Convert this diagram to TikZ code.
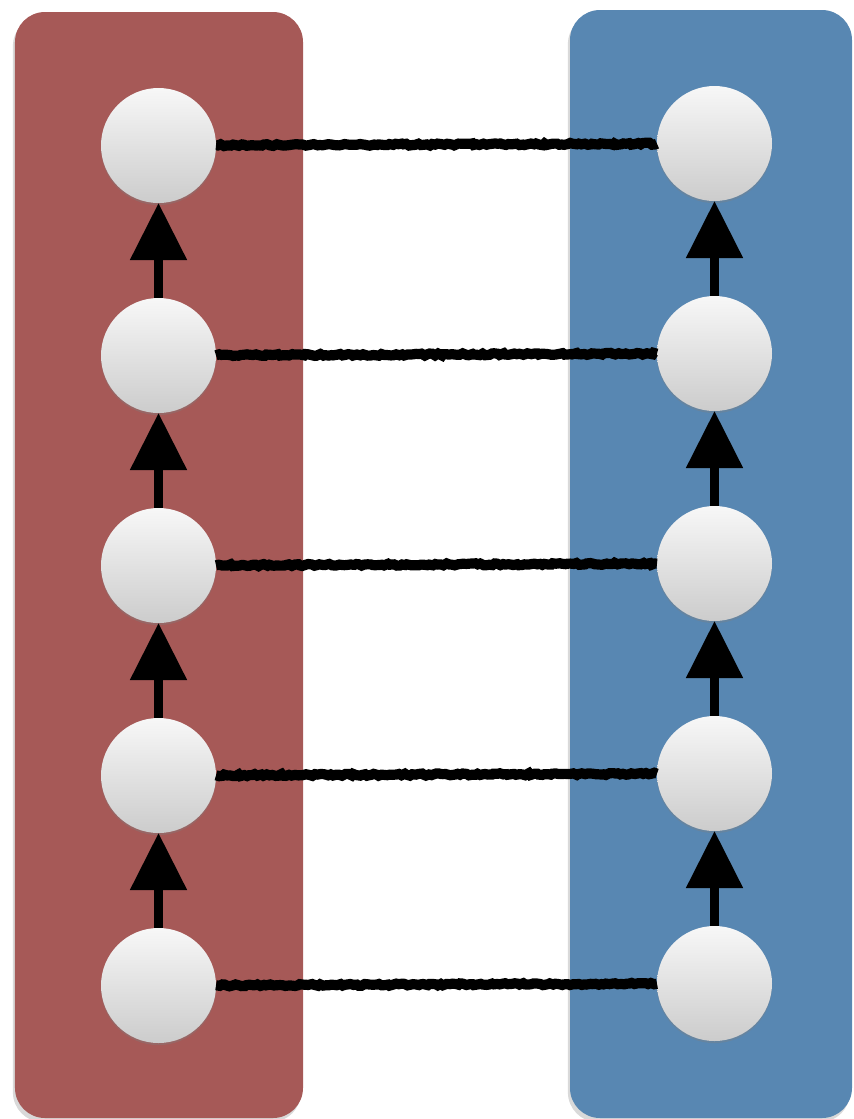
\documentclass[tikz,border=0pt]{standalone}
\usetikzlibrary{arrows.meta,positioning,shadows,decorations.pathmorphing}
\definecolor{panelred}{RGB}{166,89,87}
\definecolor{panelblue}{RGB}{88,135,178}

\begin{document}
\begin{tikzpicture}[
    node distance=0.95cm,
    ball/.style={
        circle, minimum size=1.15cm, inner sep=0pt, outer sep=0pt,
        top color=gray!6, bottom color=gray!40,
        drop shadow={opacity=0.35,shadow xshift=0pt,shadow yshift=-0.6pt}
    },
    panel/.style={
        rounded corners=0.3cm,
        drop shadow={opacity=0.3,shadow xshift=-0.6pt,shadow yshift=-1.2pt}
    },
    arrow/.style={-{Triangle[length=0.57cm,width=0.55cm]},line width=2.4pt},
    link/.style={line width=2.9pt,decorate,
        decoration={random steps,segment length=0.8pt,amplitude=0.3pt}}
]
\useasboundingbox (0,0) rectangle (8.53,-11.19);
\fill[panelred,panel]  (0.15,-0.12) rectangle (3.03,-11.18);
\fill[panelblue,panel] (5.70,-0.10) rectangle (8.52,-11.18);

\node[ball] (a1) at (1.585,-1.455) {};
\node[ball,below=of a1] (a2) {};
\node[ball,below=of a2] (a3) {};
\node[ball,below=of a3] (a4) {};
\node[ball,below=of a4] (a5) {};

\node[ball] (b1) at (7.145,-1.435) {};
\node[ball,below=of b1] (b2) {};
\node[ball,below=of b2] (b3) {};
\node[ball,below=of b3] (b4) {};
\node[ball,below=of b4] (b5) {};

\draw[arrow] (a2) -- (a1);
\draw[arrow] (a3) -- (a2);
\draw[arrow] (a4) -- (a3);
\draw[arrow] (a5) -- (a4);
\draw[arrow] (b2) -- (b1);
\draw[arrow] (b3) -- (b2);
\draw[arrow] (b4) -- (b3);
\draw[arrow] (b5) -- (b4);

\draw[link] (a1) -- (b1);
\draw[link] (a2) -- (b2);
\draw[link] (a3) -- (b3);
\draw[link] (a4) -- (b4);
\draw[link] (a5) -- (b5);
\end{tikzpicture}
\end{document}
